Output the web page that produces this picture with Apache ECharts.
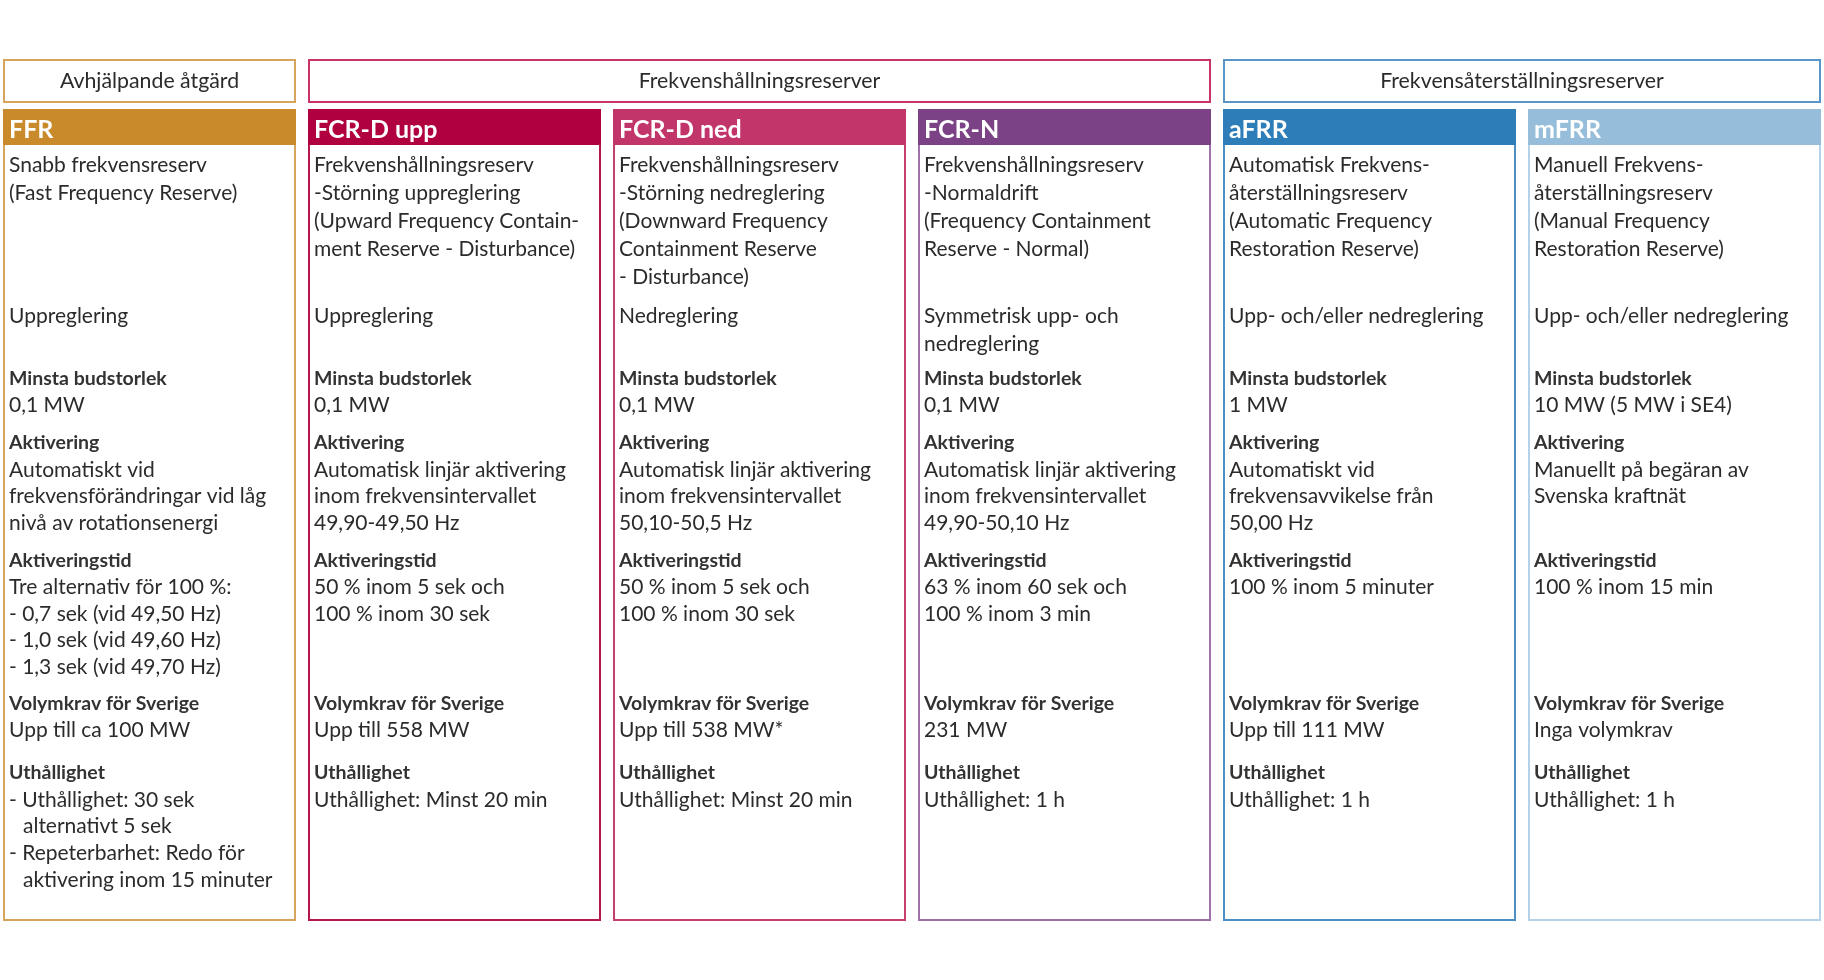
<!DOCTYPE html>
<html>
<head>
<meta charset="utf-8">
<script src="https://cdn.jsdelivr.net/npm/echarts@6/dist/echarts.min.js"></script>
<style>
html,body{margin:0;padding:0;background:#fff;}
#chart{width:1824px;height:980px;}
</style>
</head>
<body>
<div id="chart"></div>
<script>
// ---- data ----
const groupNames = ['Avhjälpande åtgärd', 'Frekvenshållningsreserver', 'Frekvensåterställningsreserver'];
const groupSpans = [[0, 0], [1, 3], [4, 5]];
const codes = ['FFR', 'FCR-D upp', 'FCR-D ned', 'FCR-N', 'aFRR', 'mFRR'];
const descriptions = [
  ['Snabb frekvensreserv', '(Fast Frequency Reserve)'],
  ['Frekvenshållningsreserv', '-Störning uppreglering', '(Upward Frequency Contain-', 'ment Reserve - Disturbance)'],
  ['Frekvenshållningsreserv', '-Störning nedreglering', '(Downward Frequency', 'Containment Reserve', '- Disturbance)'],
  ['Frekvenshållningsreserv', '-Normaldrift', '(Frequency Containment', 'Reserve - Normal)'],
  ['Automatisk Frekvens-', 'återställningsreserv', '(Automatic Frequency', 'Restoration Reserve)'],
  ['Manuell Frekvens-', 'återställningsreserv', '(Manual Frequency', 'Restoration Reserve)']
];
const directions = [
  ['Uppreglering'],
  ['Uppreglering'],
  ['Nedreglering'],
  ['Symmetrisk upp- och', 'nedreglering'],
  ['Upp- och/eller nedreglering'],
  ['Upp- och/eller nedreglering']
];
const sectionLabels = ['Minsta budstorlek', 'Aktivering', 'Aktiveringstid', 'Volymkrav för Sverige', 'Uthållighet'];
const minBid = [['0,1 MW'], ['0,1 MW'], ['0,1 MW'], ['0,1 MW'], ['1 MW'], ['10 MW (5 MW i SE4)']];
const activation = [
  ['Automatiskt vid', 'frekvensförändringar vid låg', 'nivå av rotationsenergi'],
  ['Automatisk linjär aktivering', 'inom frekvensintervallet', '49,90-49,50 Hz'],
  ['Automatisk linjär aktivering', 'inom frekvensintervallet', '50,10-50,5 Hz'],
  ['Automatisk linjär aktivering', 'inom frekvensintervallet', '49,90-50,10 Hz'],
  ['Automatiskt vid', 'frekvensavvikelse från', '50,00 Hz'],
  ['Manuellt på begäran av', 'Svenska kraftnät']
];
const activationTime = [
  ['Tre alternativ för 100 %:', '- 0,7 sek (vid 49,50 Hz)', '- 1,0 sek (vid 49,60 Hz)', '- 1,3 sek (vid 49,70 Hz)'],
  ['50 % inom 5 sek och', '100 % inom 30 sek'],
  ['50 % inom 5 sek och', '100 % inom 30 sek'],
  ['63 % inom 60 sek och', '100 % inom 3 min'],
  ['100 % inom 5 minuter'],
  ['100 % inom 15 min']
];
const volume = [['Upp till ca 100 MW'], ['Upp till 558 MW'], ['Upp till 538 MW*'], ['231 MW'], ['Upp till 111 MW'], ['Inga volymkrav']];
const endurance = [
  ['- Uthållighet: 30 sek', '  alternativt 5 sek', '- Repeterbarhet: Redo för', '  aktivering inom 15 minuter'],
  ['Uthållighet: Minst 20 min'],
  ['Uthållighet: Minst 20 min'],
  ['Uthållighet: 1 h'],
  ['Uthållighet: 1 h'],
  ['Uthållighet: 1 h']
];

// ---- styles ----
const headColors = ['#C88A2A', '#B0003F', '#C2356A', '#7B4285', '#2D7DB8', '#96BEDB'];
const boxColors = ['#D6A45C', '#B5164D', '#C4416F', '#9C72A8', '#4E8EC3', '#B5D2E8'];
const groupColors = ['#D6A45C', '#C8336A', '#5A95C8'];
const FONT = 'Lato, "Open Sans", sans-serif';
const TXT = '#2b2b2b';
const GAP = 14;

// row layout (pixel y of line centres)
const layout = {
  top: 110, bottom: 920, headBottom: 145, headText: 130,
  groupTop: 60, groupBottom: 102,
  desc: {y: 165, step: 28},
  dir: {y: 316, step: 28},
  sections: [
    {label: 379, y: 405, step: 26.7},
    {label: 443, y: 470, step: 26.7},
    {label: 561, y: 587, step: 26.8},
    {label: 704, y: 730, step: 26.7},
    {label: 773, y: 800, step: 26.7}
  ]
};
const sectionData = [minBid, activation, activationTime, volume, endurance];

const chart = echarts.init(document.getElementById('chart'), null, {renderer: 'canvas'});

function txt(x, y, s, opt) {
  let indent = 0;
  if (s.startsWith('  ')) { indent = 14; s = s.trim(); }
  return {
    type: 'text',
    style: Object.assign({
      x: x + indent, y: y, text: s, fill: TXT,
      font: '21px ' + FONT, textVerticalAlign: 'middle', textAlign: 'left'
    }, opt || {})
  };
}

function colWidth(api) {
  return api.size([1, 0])[0] - GAP;
}

function renderColumn(params, api) {
  const i = api.value(0);
  const c = api.coord([i, 0]);
  const w = colWidth(api);
  const x0 = c[0] - w / 2;
  const Y = (v) => api.coord([i, v])[1];
  const yTop = Y(layout.top), yBot = Y(layout.bottom), yHead = Y(layout.headBottom);
  const tx = x0 + 5;
  const children = [];
  children.push({type: 'rect', shape: {x: x0, y: yTop, width: w, height: yBot - yTop},
    style: {fill: '#fff', stroke: boxColors[i], lineWidth: 2}});
  children.push({type: 'rect', shape: {x: x0 - 1, y: yTop - 1, width: w + 2, height: yHead - yTop + 1},
    style: {fill: headColors[i]}});
  children.push(txt(tx, Y(layout.headText), codes[i], {fill: '#fff', font: 'bold 25px ' + FONT}));
  descriptions[i].forEach((s, k) => children.push(txt(tx, Y(layout.desc.y + k * layout.desc.step), s)));
  directions[i].forEach((s, k) => children.push(txt(tx, Y(layout.dir.y + k * layout.dir.step), s)));
  layout.sections.forEach((sec, j) => {
    children.push(txt(tx, Y(sec.label), sectionLabels[j], {font: 'bold 19.5px ' + FONT, fill: '#333'}));
    sectionData[j][i].forEach((s, k) => children.push(txt(tx, Y(sec.y + k * sec.step), s)));
  });
  return {type: 'group', children: children};
}

function renderGroup(params, api) {
  const a = api.value(0), b = api.value(1);
  const w = colWidth(api);
  const xa = api.coord([a, 0])[0] - w / 2;
  const xb = api.coord([b, 0])[0] + w / 2;
  const y0 = api.coord([a, layout.groupTop])[1];
  const y1 = api.coord([a, layout.groupBottom])[1];
  const g = params.dataIndex;
  return {type: 'group', children: [
    {type: 'rect', shape: {x: xa, y: y0, width: xb - xa, height: y1 - y0},
      style: {fill: '#fff', stroke: groupColors[g], lineWidth: 2}},
    {type: 'text', style: {x: (xa + xb) / 2, y: (y0 + y1) / 2, text: groupNames[g], fill: TXT,
      font: '21.3px ' + FONT, textAlign: 'center', textVerticalAlign: 'middle'}}
  ]};
}

const option = {
  animation: false,
  backgroundColor: '#fff',
  grid: {left: 149.5, right: 149.5, top: 0, bottom: 0},
  xAxis: {type: 'category', data: codes, show: false, boundaryGap: false},
  yAxis: {type: 'value', min: 0, max: 980, inverse: true, show: false},
  series: [
    {type: 'custom', renderItem: renderGroup, data: groupSpans, silent: true, clip: false},
    {type: 'custom', renderItem: renderColumn, data: codes.map((c, i) => [i]), silent: true, clip: false}
  ]
};
chart.setOption(option);
</script>
</body>
</html>
